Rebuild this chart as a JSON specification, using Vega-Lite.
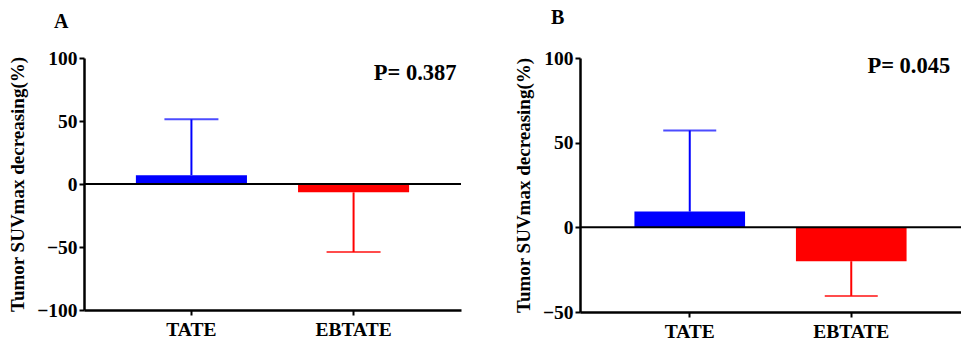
{
  "$schema": "https://vega.github.io/schema/vega-lite/v6.json",
  "padding": {"left": 8, "top": 8, "right": 0, "bottom": 0},
  "background": "white",
  "spacing": 52,
  "config": {
    "view": {"stroke": null},
    "font": "Liberation Serif",
    "axis": {
      "labelFont": "Liberation Serif", "labelFontWeight": "bold", "labelFontSize": 19.5, "labelColor": "black",
      "titleFont": "Liberation Serif", "titleFontWeight": "bold", "titleFontSize": 19, "titleColor": "black",
      "domainColor": "black", "domainWidth": 2.5, "tickColor": "black", "tickWidth": 2, "tickSize": 5,
      "grid": false
    },
    "text": {"font": "Liberation Serif"},
    "title": {"font": "Liberation Serif", "fontWeight": "bold", "fontSize": 20, "color": "black", "anchor": "start", "frame": "group"}
  },
  "hconcat": [
    {
      "width": 377, "height": 252,
      "title": {"text": "A", "dx": -30, "offset": 16},
      "data": {"values": [
        {"group": "TATE", "mean": 7, "err": 51.3},
        {"group": "EBTATE", "mean": -6.6, "err": -54}
      ]},
      "layer": [
        {"mark": {"type": "rule", "strokeWidth": 2},
         "encoding": {
           "x": {"field": "group", "type": "nominal", "sort": ["TATE", "EBTATE"],
             "scale": {"paddingInner": 0.315, "paddingOuter": 0.32},
             "axis": {"title": null, "labelAngle": 0, "labelPadding": 5}},
           "y": {"field": "mean", "type": "quantitative"}, "y2": {"field": "err"},
           "color": {"field": "group", "type": "nominal", "scale": {"domain": ["TATE", "EBTATE"], "range": ["#0000ff", "#ff0000"]}, "legend": null}}},
        {"mark": {"type": "tick", "thickness": 2, "size": 54},
         "encoding": {
           "x": {"field": "group", "type": "nominal", "sort": ["TATE", "EBTATE"]},
           "y": {"field": "err", "type": "quantitative"},
           "color": {"field": "group", "type": "nominal", "legend": null}}},
        {"mark": {"type": "bar"},
         "encoding": {
           "x": {"field": "group", "type": "nominal", "sort": ["TATE", "EBTATE"]},
           "y": {"field": "mean", "type": "quantitative", "scale": {"domain": [-100, 100], "nice": false},
             "axis": {"title": "Tumor SUVmax decreasing(%)", "values": [-100, -50, 0, 50, 100], "titlePadding": 9}},
           "color": {"field": "group", "type": "nominal", "legend": null}}},
        {"data": {"values": [{"z": 0}]},
         "mark": {"type": "rule", "strokeWidth": 2, "color": "black"},
         "encoding": {"y": {"field": "z", "type": "quantitative"}}},
        {"data": {"values": [{"group": "EBTATE", "label": "P= 0.387", "yv": 88}]},
         "mark": {"type": "text", "align": "right", "baseline": "middle", "dx": 103, "fontSize": 22.5, "fontWeight": "bold", "color": "black"},
         "encoding": {
           "x": {"field": "group", "type": "nominal", "sort": ["TATE", "EBTATE"]},
           "y": {"field": "yv", "type": "quantitative"}, "text": {"field": "label"}}}
      ]
    },
    {
      "width": 381, "height": 254,
      "title": {"text": "B", "dx": -29, "offset": 20},
      "data": {"values": [
        {"group": "TATE", "mean": 9.3, "err": 57.2},
        {"group": "EBTATE", "mean": -20, "err": -40.5}
      ]},
      "layer": [
        {"mark": {"type": "rule", "strokeWidth": 2},
         "encoding": {
           "x": {"field": "group", "type": "nominal", "sort": ["TATE", "EBTATE"],
             "scale": {"paddingInner": 0.315, "paddingOuter": 0.337},
             "axis": {"title": null, "labelAngle": 0, "labelPadding": 5}},
           "y": {"field": "mean", "type": "quantitative"}, "y2": {"field": "err"},
           "color": {"field": "group", "type": "nominal", "scale": {"domain": ["TATE", "EBTATE"], "range": ["#0000ff", "#ff0000"]}, "legend": null}}},
        {"mark": {"type": "tick", "thickness": 2, "size": 53},
         "encoding": {
           "x": {"field": "group", "type": "nominal", "sort": ["TATE", "EBTATE"]},
           "y": {"field": "err", "type": "quantitative"},
           "color": {"field": "group", "type": "nominal", "legend": null}}},
        {"mark": {"type": "bar"},
         "encoding": {
           "x": {"field": "group", "type": "nominal", "sort": ["TATE", "EBTATE"]},
           "y": {"field": "mean", "type": "quantitative", "scale": {"domain": [-50, 100], "nice": false},
             "axis": {"title": "Tumor SUVmax decreasing(%)", "values": [-50, 0, 50, 100], "titlePadding": 9}},
           "color": {"field": "group", "type": "nominal", "legend": null}}},
        {"data": {"values": [{"z": 0}]},
         "mark": {"type": "rule", "strokeWidth": 2, "color": "black"},
         "encoding": {"y": {"field": "z", "type": "quantitative"}}},
        {"data": {"values": [{"group": "EBTATE", "label": "P= 0.045", "yv": 95}]},
         "mark": {"type": "text", "align": "right", "baseline": "middle", "dx": 99, "fontSize": 22.5, "fontWeight": "bold", "color": "black"},
         "encoding": {
           "x": {"field": "group", "type": "nominal", "sort": ["TATE", "EBTATE"]},
           "y": {"field": "yv", "type": "quantitative"}, "text": {"field": "label"}}}
      ]
    }
  ]
}
